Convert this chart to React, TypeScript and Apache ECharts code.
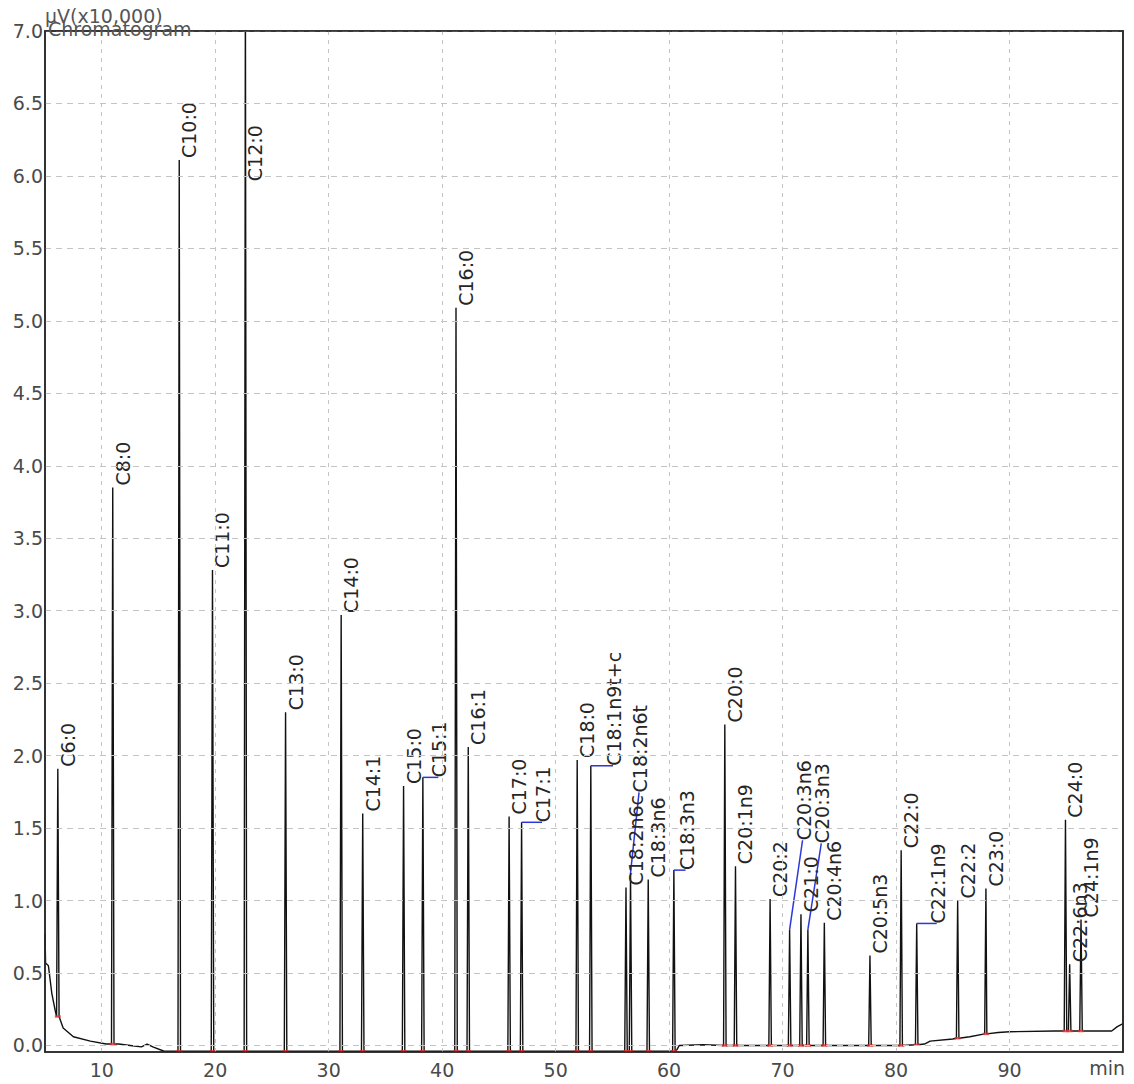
import React, { useEffect, useRef } from "react";
import * as echarts from "echarts";

// ---- axis ticks ----
const xTicks = [10, 20, 30, 40, 50, 60, 70, 80, 90];
const yTicks = [0, 0.5, 1, 1.5, 2, 2.5, 3, 3.5, 4, 4.5, 5, 5.5, 6, 6.5, 7];

// ---- peaks (retention time in min, apex height and base level in uV x10,000) ----
const peakNames = [
  "C6:0", "C8:0", "C10:0", "C11:0", "C12:0", "C13:0", "C14:0", "C14:1", "C15:0", "C15:1",
  "C16:0", "C16:1", "C17:0", "C17:1", "C18:0", "C18:1n9t+c", "C18:2n6c", "C18:2n6t", "C18:3n6", "C18:3n3",
  "C20:0", "C20:1n9", "C20:2", "C20:3n6", "C21:0", "C20:3n3", "C20:4n6", "C20:5n3", "C22:0", "C22:1n9",
  "C22:2", "C23:0", "C24:0", "C22:6n3", "C24:1n9",
];
const peakTimes = [
  6.13, 10.97, 16.83, 19.76, 22.66, 26.2, 31.1, 33.0, 36.6, 38.3,
  41.22, 42.3, 45.9, 47.0, 51.9, 53.1, 56.2, 56.6, 58.16, 60.42,
  64.91, 65.85, 68.9, 70.62, 71.62, 72.23, 73.68, 77.7, 80.45, 81.82,
  85.43, 87.92, 94.93, 95.3, 96.3,
];
const peakHeights = [
  1.91, 3.85, 6.11, 3.28, 7.4, 2.3, 2.97, 1.6, 1.79, 1.85,
  5.09, 2.06, 1.58, 1.54, 1.97, 1.93, 1.09, 1.19, 1.145, 1.21,
  2.215, 1.237, 1.01, 0.8, 0.906, 0.8, 0.846, 0.62, 1.347, 0.842,
  1.0, 1.083, 1.558, 0.56, 0.87,
];
const peakBases = [
  0.2, 0.01, -0.04, -0.04, -0.04, -0.04, -0.04, -0.04, -0.04, -0.04,
  -0.04, -0.04, -0.04, -0.04, -0.04, -0.04, -0.04, -0.04, -0.04, -0.04,
  0.0, 0.0, 0.0, 0.0, 0.0, 0.0, 0.0, 0.0, 0.0, 0.005,
  0.05, 0.08, 0.1, 0.1, 0.1,
];

// ---- baseline (drift) between peaks ----
const baselineTimes = [
  5.0, 5.05, 5.3, 5.6, 5.9, 6.6, 7.5, 9.0, 10.4, 11.5, 12.5, 13.5, 14.0, 14.5, 15.5,
  60.6, 60.9, 63.0, 70.0, 80.0, 82.5, 83.0, 85.0, 86.5, 88.0, 89.0, 90.0, 94.0, 97.0, 99.0, 99.5, 100.0,
];
const baselineValues = [
  0.77, 0.57, 0.55, 0.36, 0.24, 0.12, 0.06, 0.03, 0.01, 0.01, 0.0, -0.01, 0.01, -0.01, -0.04,
  -0.04, 0.0, 0.005, 0.0, 0.0, 0.01, 0.03, 0.045, 0.06, 0.08, 0.09, 0.095, 0.1, 0.1, 0.1, 0.13, 0.15,
];

// ---- labels moved away from their peak (blue leader lines) ----
const leaderNames = ["C15:1", "C17:1", "C18:1n9t+c", "C18:2n6t", "C18:3n3", "C20:3n6", "C20:3n3", "C22:1n9"];
const leaderEndTimes = [39.66, 48.81, 55.06, 57.35, 61.45, 71.76, 73.41, 83.58];
const leaderEndValues = [1.85, 1.54, 1.93, 1.746, 1.21, 1.416, 1.395, 0.842];

// ---- labels of off-scale peaks placed lower ----
const shiftedNames = ["C12:0"];
const shiftedValues = [5.95];

const PEAK_HALF_WIDTH = 0.11;
const FONT = '"DejaVu Sans", Verdana, sans-serif';

function buildTrace(): [number, number][] {
  const pts: [number, number][] = baselineTimes.map((t, i) => [t, baselineValues[i]]);
  peakTimes.forEach((t, i) => {
    pts.push([t - PEAK_HALF_WIDTH, peakBases[i]]);
    pts.push([t, peakHeights[i]]);
    pts.push([t + PEAK_HALF_WIDTH, peakBases[i]]);
  });
  pts.sort((a, b) => a[0] - b[0]);
  return pts;
}

export default function App() {
  const ref = useRef<HTMLDivElement>(null);

  useEffect(() => {
    if (!ref.current) return;
    const chart = echarts.init(ref.current, null, { renderer: "svg" });

    const labelData = peakNames.map((n, i) => {
      const li = leaderNames.indexOf(n);
      const si = shiftedNames.indexOf(n);
      if (li >= 0) return [leaderEndTimes[li], leaderEndValues[li], i, 1];
      if (si >= 0) return [peakTimes[i], shiftedValues[si], i, 0];
      return [peakTimes[i], peakHeights[i], i, 0];
    });

    const leaderData = leaderNames.map((n, k) => {
      const i = peakNames.indexOf(n);
      return [peakTimes[i], peakHeights[i], leaderEndTimes[k], leaderEndValues[k]];
    });

    const borderLine = { show: true, onZero: false, lineStyle: { color: "#2a2a2a", width: 1.6 } };

    const option: any = {
      animation: false,
      backgroundColor: "#ffffff",
      grid: {
        left: 45,
        right: 11,
        top: 31,
        bottom: 32,
        show: true,
        borderColor: "#2a2a2a",
        borderWidth: 1.6,
        containLabel: false,
      },
      xAxis: [
        {
          type: "value",
          min: 5,
          max: 100,
          axisLine: borderLine,
          axisTick: { show: false, customValues: xTicks },
          axisLabel: {
            customValues: xTicks,
            fontSize: 19,
            fontFamily: FONT,
            color: "#4a4a4a",
            margin: 8,
          },
          splitLine: { show: true, lineStyle: { color: "#c4c4c4", type: [4, 5], width: 1 } },
          z: 10,
        },
        {
          type: "value",
          position: "top",
          min: 5,
          max: 100,
          axisLine: borderLine,
          axisTick: { show: false },
          axisLabel: { show: false },
          splitLine: { show: false },
          z: 10,
        },
      ],
      yAxis: [
        {
          type: "value",
          min: -0.045,
          max: 7,
          axisLine: borderLine,
          axisTick: { show: false, customValues: yTicks },
          axisLabel: {
            customValues: yTicks,
            formatter: (v: number) => v.toFixed(1),
            fontSize: 19,
            fontFamily: FONT,
            color: "#4a4a4a",
            margin: 2,
          },
          splitLine: { show: true, lineStyle: { color: "#c4c4c4", type: [6, 5], width: 1 } },
          z: 10,
        },
        {
          type: "value",
          position: "right",
          min: -0.045,
          max: 7,
          axisLine: borderLine,
          axisTick: { show: false },
          axisLabel: { show: false },
          splitLine: { show: false },
          z: 10,
        },
      ],
      graphic: [
        {
          type: "text",
          left: 45,
          top: 6,
          z: 100,
          style: { text: "μV(x10,000)", font: `19px ${FONT}`, fill: "#555555" },
        },
        {
          type: "text",
          left: 48,
          top: 19,
          z: 100,
          style: { text: "Chromatogram", font: `19px ${FONT}`, fill: "#555555" },
        },
        {
          type: "text",
          right: 9,
          top: 1058,
          z: 100,
          style: { text: "min", font: `19px ${FONT}`, fill: "#4a4a4a" },
        },
      ],
      series: [
        {
          type: "line",
          data: buildTrace(),
          showSymbol: false,
          clip: true,
          lineStyle: { color: "#111111", width: 1.4 },
          z: 3,
        },
        {
          type: "scatter",
          data: peakTimes.map((t, i) => [t, peakBases[i]]),
          symbol: "rect",
          symbolSize: [6, 2.5],
          itemStyle: { color: "#e53030" },
          z: 4,
          silent: true,
        },
        {
          type: "custom",
          data: leaderData,
          encode: { x: [0, 2], y: [1, 3] },
          z: 5,
          silent: true,
          renderItem: (_p: any, api: any) => {
            const a = api.coord([api.value(0), api.value(1)]);
            const b = api.coord([api.value(2), api.value(3)]);
            return {
              type: "line",
              shape: { x1: a[0], y1: a[1], x2: b[0], y2: b[1] },
              style: { stroke: "#2b38d8", lineWidth: 1.5 },
            };
          },
        },
        {
          type: "custom",
          data: labelData,
          encode: { x: 0, y: 1 },
          z: 6,
          silent: true,
          renderItem: (_p: any, api: any) => {
            const p = api.coord([api.value(0), api.value(1)]);
            const lead = api.value(3) === 1;
            return {
              type: "text",
              x: p[0] + (lead ? 1 : 10),
              y: p[1] - (lead ? 0 : 2),
              rotation: Math.PI / 2,
              style: {
                text: peakNames[api.value(2)],
                font: `19px ${FONT}`,
                fill: "#262626",
                align: "left",
                verticalAlign: "middle",
              },
            };
          },
        },
      ],
    };

    chart.setOption(option);
    return () => chart.dispose();
  }, []);

  return (
    <div
      ref={ref}
      style={{ position: "fixed", left: 0, top: 0, width: 1134, height: 1084, background: "#fff" }}
    />
  );
}
